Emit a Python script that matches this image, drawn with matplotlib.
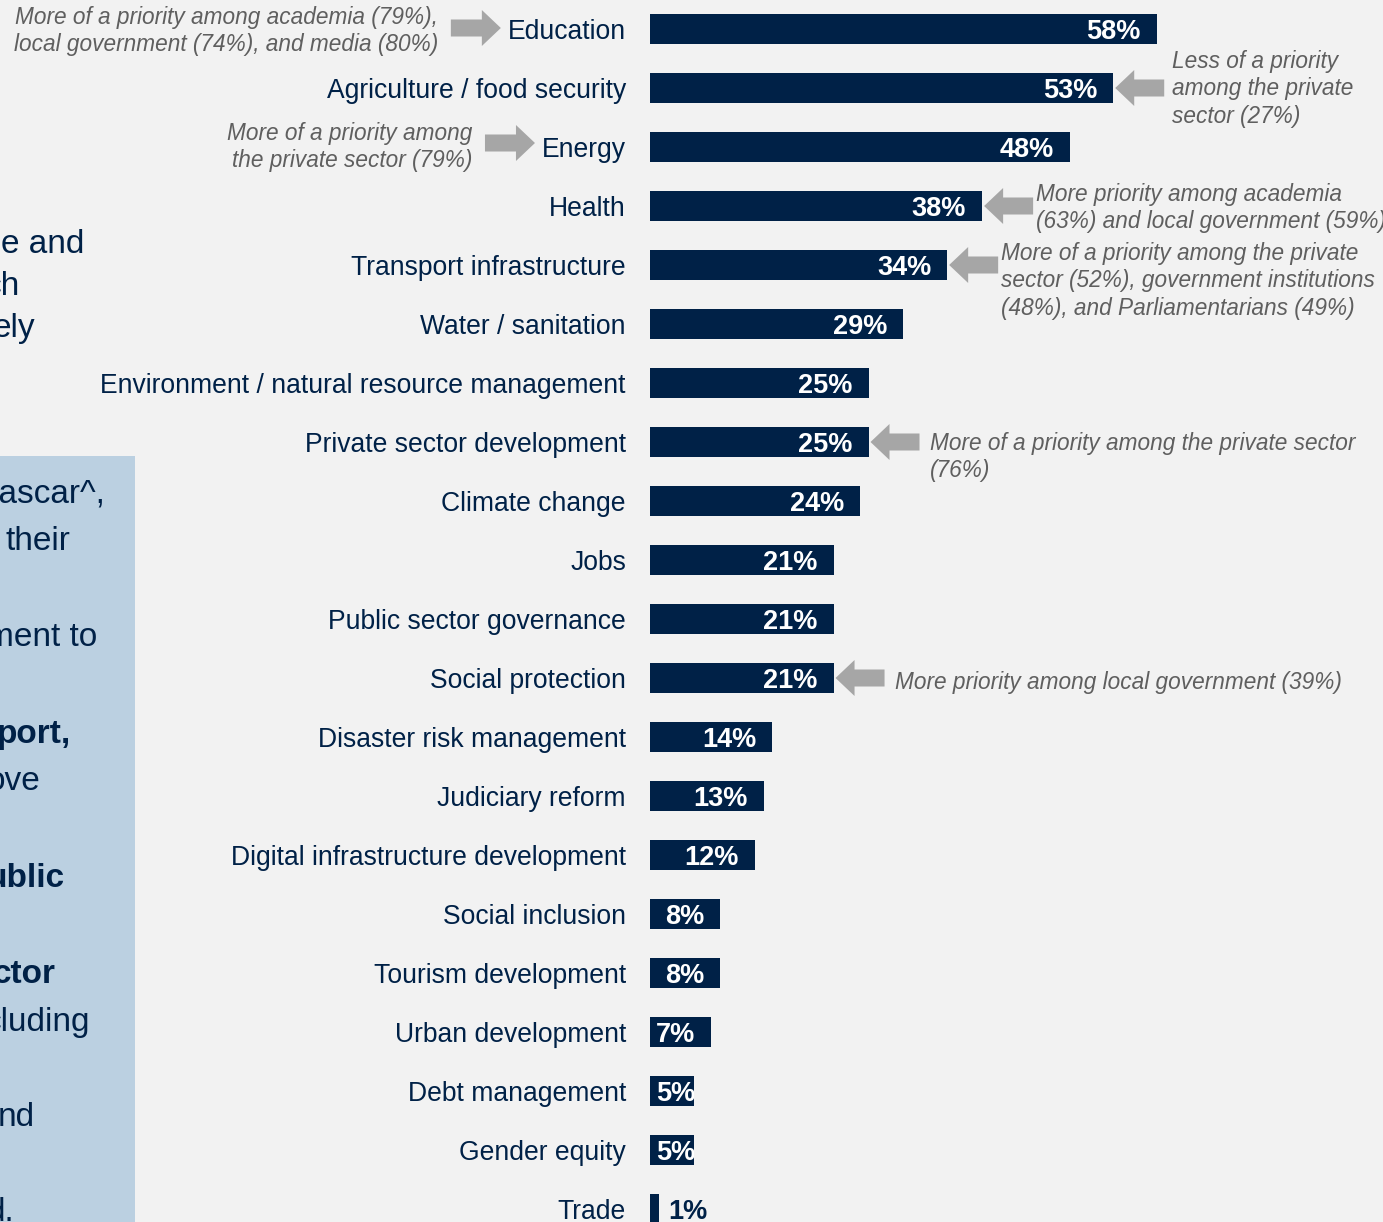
import matplotlib
matplotlib.use('Agg')
import matplotlib.pyplot as plt
from matplotlib.patches import FancyArrow, Rectangle
from matplotlib.transforms import Bbox, TransformedBbox

plt.rcParams['font.family'] = ['Liberation Sans', 'DejaVu Sans']

W, H = 1383, 1222
NAVY = '#002147'
BG = '#F2F2F2'
PANEL = '#BBD0E1'
ARROW = '#A6A6A6'
NOTE = '#5F5F5F'

categories = [
    'Education', 'Agriculture / food security', 'Energy', 'Health',
    'Transport infrastructure', 'Water / sanitation',
    'Environment / natural resource management', 'Private sector development',
    'Climate change', 'Jobs', 'Public sector governance', 'Social protection',
    'Disaster risk management', 'Judiciary reform',
    'Digital infrastructure development', 'Social inclusion',
    'Tourism development', 'Urban development', 'Debt management',
    'Gender equity', 'Trade',
]
shares = [58, 53, 48, 38, 34, 29, 25, 25, 24, 21, 21, 21, 14, 13, 12, 8, 8, 7, 5, 5, 1]

# callouts pointing at a category label (left) or at the end of a bar (right)
notes_left = {
    'Education': 'More of a priority among academia (79%),\nlocal government (74%), and media (80%)',
    'Energy': 'More of a priority among\nthe private sector (79%)',
}
notes_right = {
    'Agriculture / food security': 'Less of a priority\namong the private\nsector (27%)',
    'Health': 'More priority among academia\n(63%) and local government (59%)',
    'Transport infrastructure': 'More of a priority among the private\nsector (52%), government institutions\n(48%), and Parliamentarians (49%)',
    'Private sector development': 'More of a priority among the private sector\n(76%)',
    'Social protection': 'More priority among local government (39%)',
}

# text of the neighbouring panel, only its right-hand end is on the page
side_text_plain = ['e and', 'ch', 'ely']
side_text_box = [('gascar^,', False), ('their', False), ('ment to', False),
                 ('port,', True), ('ove', False), ('ublic', True),
                 ('ctor', True), ('cluding', False), ('nd', False), ('d.', False)]

PX_PER_PCT = 8.74
ROW_PX = 59
FIRST_ROW_PX = 29
BAR_LEFT = 650
NOTE_SIZE = 16.3
NOTE_SPACING = 1.23

fig = plt.figure(figsize=(W / 100, H / 100), dpi=100, facecolor=BG)

# pixel-space overlay for the side panel, arrows and callout text
ov = fig.add_axes([0, 0, 1, 1])
ov.set_xlim(0, W)
ov.set_ylim(H, 0)
ov.axis('off')
ov.patch.set_visible(False)

ax = fig.add_axes([BAR_LEFT / W, 0, (W - BAR_LEFT) / W, 1])
ax.set_xlim(0, (W - BAR_LEFT) / PX_PER_PCT)
ax.set_ylim((H - FIRST_ROW_PX) / ROW_PX, -FIRST_ROW_PX / ROW_PX)
ax.patch.set_visible(False)
for s in ax.spines.values():
    s.set_visible(False)
ax.xaxis.set_visible(False)

rows = list(range(len(categories)))
bars = ax.barh(rows, shares, height=0.5, color=NAVY, edgecolor='none')
ax.set_yticks(rows, categories)
ax.tick_params(axis='y', length=0, pad=17.3, labelsize=19.1, labelcolor=NAVY)

fig.canvas.draw()
renderer = fig.canvas.get_renderer()

# value labels: white inside the bar end, navy outside for tiny bars
for i, v in enumerate(shares):
    if v < 3:
        ax.annotate(f'{v}%', (v, i), xytext=(6.5, 0), textcoords='offset points',
                    ha='left', va='center_baseline', fontsize=19.5,
                    fontweight='bold', color=NAVY)
        continue
    t = ax.annotate(f'{v}%', (v, i), xytext=(-11.5, 0), textcoords='offset points',
                    ha='right', va='center_baseline', fontsize=19.5,
                    fontweight='bold', color='white')
    x0_disp = ax.transData.transform((0, i))[0]
    if t.get_window_extent(renderer).x0 < x0_disp + 6:
        # too short for an end-aligned label: start it near the bar base
        t.remove()
        t = ax.annotate(f'{v}%', (0, i), xytext=(4.3, 0), textcoords='offset points',
                        ha='left', va='center_baseline', fontsize=19.5,
                        fontweight='bold', color='white')
    bb = Bbox([[0, i - 0.25], [v, i + 0.25]])
    t.set_clip_box(TransformedBbox(bb, ax.transData))
    t.set_clip_on(True)


def to_px(x, y):
    dx, dy = ax.transData.transform((x, y))
    return dx, H - dy


# left callouts: arrow points at the category label
labels = {lab.get_text(): lab for lab in ax.get_yticklabels()}
left_y = {'Education': (-1, 2), 'Energy': (-4, 0)}
for cat, txt in notes_left.items():
    i = categories.index(cat)
    ext = labels[cat].get_window_extent(renderer)
    _, yc = to_px(0, i)
    tip = ext.x0 - 7
    tail = tip - 50
    ay = yc + left_y[cat][0]
    ov.add_patch(FancyArrow(tail, ay, tip - tail, 0, width=17, head_width=36,
                            head_length=19, length_includes_head=True,
                            color=ARROW, lw=0))
    ov.text(tail - 13, yc + left_y[cat][1], txt, ha='right', va='center',
            fontsize=NOTE_SIZE, style='italic', color=NOTE,
            linespacing=NOTE_SPACING)

# right callouts: arrow points at the bar end
right_dy = {'Agriculture / food security': 1, 'Health': 2,
            'Transport infrastructure': 16, 'Private sector development': 15,
            'Social protection': 5}
right_gap = {'Agriculture / food security': 8, 'Health': 3,
             'Transport infrastructure': 3, 'Private sector development': 10,
             'Social protection': 10}
for cat, txt in notes_right.items():
    i = categories.index(cat)
    xe, yc = to_px(shares[i], i)
    tip = xe + 2
    tail = tip + 49
    ov.add_patch(FancyArrow(tail, yc, tip - tail, 0, width=17, head_width=36,
                            head_length=19, length_includes_head=True,
                            color=ARROW, lw=0))
    ov.text(tail + right_gap[cat], yc + right_dy[cat], txt, ha='left', va='center',
            fontsize=NOTE_SIZE, style='italic', color=NOTE,
            linespacing=NOTE_SPACING)

# neighbouring panel
ov.add_patch(Rectangle((0, 456), 135, H - 456, color=PANEL, lw=0))
plain_pos = [(84, 253), (20, 295), (35, 337)]
for s, (x, y) in zip(side_text_plain, plain_pos):
    ov.text(x, y, s, ha='right', va='baseline', fontsize=24, color=NAVY)
box_pos = [(106, 503), (70, 550), (97, 646), (71, 743), (40, 790),
           (65, 887), (56, 983), (90, 1031), (35, 1126), (14, 1221)]
for (s, bold), (x, y) in zip(side_text_box, box_pos):
    ov.text(x, y, s, ha='right', va='baseline', fontsize=24, color=NAVY,
            fontweight='bold' if bold else 'normal')

fig.savefig('out.png', dpi=100, facecolor=BG)
